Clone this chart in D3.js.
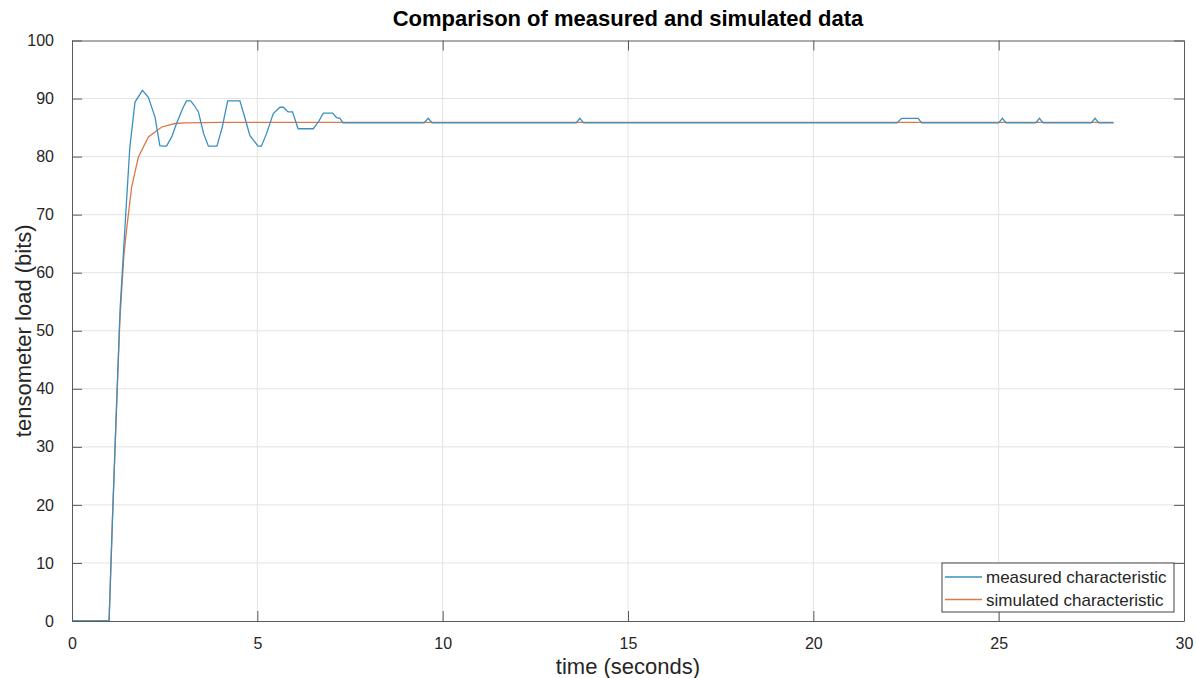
<!DOCTYPE html>
<html>
<head>
<meta charset="utf-8">
<script src="https://cdn.jsdelivr.net/npm/d3@7"></script>
<style>
  body { margin: 0; background: #fff; }
  text { font-family: "Liberation Sans", Arial, sans-serif; fill: #262626; }
</style>
</head>
<body>
<div id="chart"></div>
<script>
// measured characteristic (time in seconds, load in bits)
var measuredT = [0, 1.0, 1.1, 1.2, 1.3, 1.43, 1.56, 1.70, 1.90, 2.06, 2.24, 2.37, 2.46, 2.55, 2.69, 2.82, 3.0, 3.09, 3.2, 3.3, 3.41, 3.55, 3.68, 3.91, 4.05, 4.2, 4.53, 4.65, 4.8, 5.02, 5.11, 5.25, 5.43, 5.61, 5.7, 5.83, 5.95, 6.1, 6.51, 6.65, 6.78, 7.03, 7.14, 7.23, 7.31,
                 9.5, 9.61, 9.72, 13.6, 13.7, 13.8, 22.26, 22.38, 22.83, 22.92, 25.0, 25.1, 25.2, 26.0, 26.1, 26.2, 27.5, 27.6, 27.7, 28.1];
var measuredV = [0, 0, 19, 37, 54, 68, 81.6, 89.4, 91.4, 90.2, 86.8, 81.9, 81.8, 81.8, 83.4, 85.7, 88.5, 89.6, 89.6, 88.8, 87.7, 84, 81.8, 81.8, 85, 89.6, 89.6, 87, 83.6, 81.8, 81.8, 84, 87.4, 88.5, 88.5, 87.7, 87.7, 84.8, 84.8, 86, 87.5, 87.5, 86.7, 86.6, 85.8,
                 85.8, 86.6, 85.8, 85.8, 86.6, 85.8, 85.8, 86.6, 86.6, 85.8, 85.8, 86.6, 85.8, 85.8, 86.6, 85.8, 85.8, 86.6, 85.8, 85.8];

// simulated characteristic
var simulatedT = [0, 1.0, 1.09, 1.19, 1.29, 1.4, 1.47, 1.61, 1.79, 2.06, 2.42, 2.78, 3.05, 4.0, 28.1];
var simulatedV = [0, 0, 17.4, 34.6, 51.8, 63, 67.3, 74.8, 79.9, 83.4, 85.1, 85.7, 85.8, 85.9, 85.9];

var xTicks = [0, 5, 10, 15, 20, 25, 30];
var yTicks = [0, 10, 20, 30, 40, 50, 60, 70, 80, 90, 100];

var seriesNames = ["measured characteristic", "simulated characteristic"];
var seriesColors = ["#3a8fc0", "#dc7845"];

var margin = {top: 40.5, right: 12, bottom: 57, left: 72};
var width = 1196 - margin.left - margin.right,
    height = 678 - margin.top - margin.bottom;

var svg = d3.select("#chart").append("svg")
    .attr("width", 1196)
    .attr("height", 678);

var g = svg.append("g")
    .attr("transform", "translate(" + margin.left + "," + margin.top + ")");

var x = d3.scaleLinear().domain([0, 30]).range([0, width]);
var y = d3.scaleLinear().domain([0, 100]).range([height, 0]);

// grid
g.append("g").selectAll("line.vgrid")
    .data(xTicks.slice(1, -1)).enter().append("line")
    .attr("x1", function(d) { return x(d); }).attr("x2", function(d) { return x(d); })
    .attr("y1", 0).attr("y2", height)
    .attr("stroke", "#e3e3e3").attr("stroke-width", 1);

g.append("g").selectAll("line.hgrid")
    .data(yTicks.slice(1, -1)).enter().append("line")
    .attr("x1", 0).attr("x2", width)
    .attr("y1", function(d) { return y(d); }).attr("y2", function(d) { return y(d); })
    .attr("stroke", "#e3e3e3").attr("stroke-width", 1);

// lines
var line = d3.line()
    .x(function(d) { return x(d[0]); })
    .y(function(d) { return y(d[1]); });

var measured = measuredT.map(function(t, i) { return [t, measuredV[i]]; });
var simulated = simulatedT.map(function(t, i) { return [t, simulatedV[i]]; });

g.append("path").datum(simulated)
    .attr("d", line)
    .attr("fill", "none")
    .attr("stroke", seriesColors[1])
    .attr("stroke-width", 1.3);

g.append("path").datum(measured)
    .attr("d", line)
    .attr("fill", "none")
    .attr("stroke", seriesColors[0])
    .attr("stroke-width", 1.3);

// axes with inward ticks, box on all sides
var axisColor = "#5a5a5a";
var bottomAxis = g.append("g")
    .attr("transform", "translate(0," + height + ")")
    .call(d3.axisBottom(x).tickValues(xTicks).tickSizeInner(-10).tickSizeOuter(0).tickPadding(17));
var topAxis = g.append("g")
    .call(d3.axisTop(x).tickValues(xTicks).tickSizeInner(-10).tickSizeOuter(0).tickFormat(""));
var leftAxis = g.append("g")
    .call(d3.axisLeft(y).tickValues(yTicks).tickSizeInner(-10).tickSizeOuter(0).tickPadding(18));
var rightAxis = g.append("g")
    .attr("transform", "translate(" + width + ",0)")
    .call(d3.axisRight(y).tickValues(yTicks).tickSizeInner(-10).tickSizeOuter(0).tickFormat(""));

[bottomAxis, topAxis, leftAxis, rightAxis].forEach(function(a) {
    a.select(".domain").attr("stroke", axisColor);
    a.selectAll(".tick line").attr("stroke", axisColor);
    a.selectAll(".tick text")
        .style("font-family", "'Liberation Sans', Arial, sans-serif")
        .style("font-size", "16px")
        .attr("fill", "#262626");
});

// title and labels
svg.append("text")
    .attr("x", margin.left + width / 2)
    .attr("y", 26)
    .attr("text-anchor", "middle")
    .style("font-size", "22px")
    .style("font-weight", "bold")
    .style("fill", "#000")
    .text("Comparison of measured and simulated data");

svg.append("text")
    .attr("x", margin.left + width / 2)
    .attr("y", 674)
    .attr("text-anchor", "middle")
    .style("font-size", "22px")
    .text("time (seconds)");

svg.append("text")
    .attr("transform", "translate(31," + (margin.top + height / 2) + ") rotate(-90)")
    .attr("text-anchor", "middle")
    .style("font-size", "22px")
    .text("tensometer load (bits)");

// legend
var legend = svg.append("g").attr("transform", "translate(942,563)");
legend.append("rect")
    .attr("width", 232).attr("height", 49)
    .attr("fill", "#fff").attr("stroke", "#444").attr("stroke-width", 1);

seriesNames.forEach(function(name, i) {
    var row = legend.append("g").attr("transform", "translate(0," + (14 + i * 22.5) + ")");
    row.append("line")
        .attr("x1", 3).attr("x2", 40)
        .attr("y1", 0).attr("y2", 0)
        .attr("stroke", seriesColors[i]).attr("stroke-width", 1.3);
    row.append("text")
        .attr("x", 44).attr("y", 6)
        .style("font-size", "17px")
        .text(name);
});
</script>
</body>
</html>
